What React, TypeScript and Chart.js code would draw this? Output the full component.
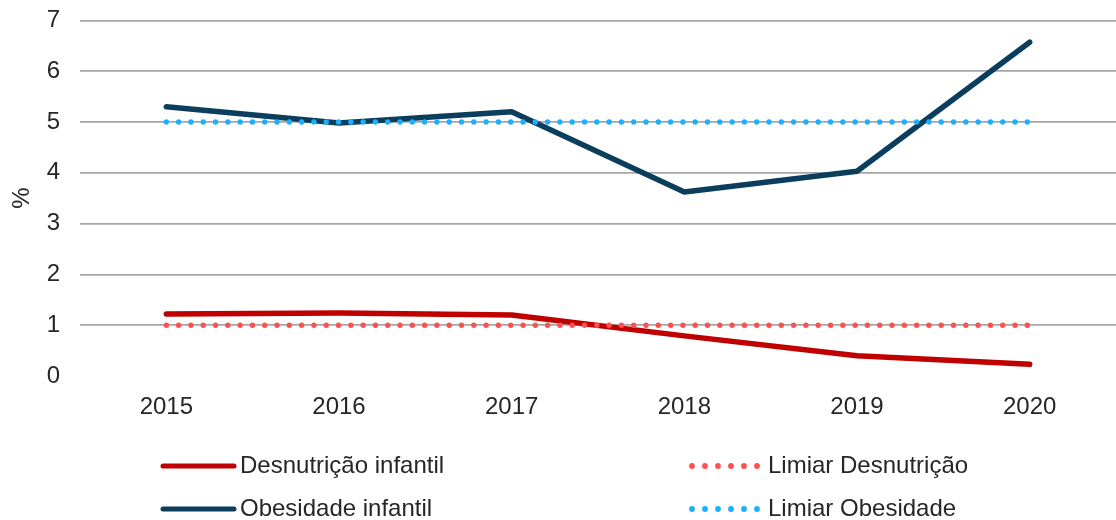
import React, { useEffect, useRef } from "react";
import { Chart, registerables } from "chart.js";

Chart.register(...registerables);

const categories = ["2015", "2016", "2017", "2018", "2019", "2020"];
const desnutricao = [1.22, 1.24, 1.2, 0.79, 0.4, 0.23];
const obesidade = [5.3, 4.98, 5.2, 3.62, 4.03, 6.57];
const limiarDesnutricao = [1, 1, 1, 1, 1, 1];
const limiarObesidade = [5, 5, 5, 5, 5, 5];
const yTicks = [0, 1, 2, 3, 4, 5, 6, 7];

const FONT = "'Liberation Sans', Arial, sans-serif";
const TEXT = "#262626";
const FS = 24;
const SHIFT = 14;

const legendItems = [
  { label: "Desnutrição infantil", color: "#C00000", dotted: false, x: 163, y: 466 },
  { label: "Limiar Desnutrição", color: "#FF5050", dotted: true, x: 692, y: 466 },
  { label: "Obesidade infantil", color: "#0B3D5C", dotted: false, x: 163, y: 509 },
  { label: "Limiar Obesidade", color: "#1AB0FF", dotted: true, x: 692, y: 509 },
];

const legendPlugin = {
  id: "customLegend",
  afterDraw(chart: any) {
    const ctx = chart.ctx;
    ctx.save();
    ctx.font = `${FS}px ${FONT}`;
    ctx.textBaseline = "middle";
    ctx.textAlign = "left";
    for (const it of legendItems) {
      const y = it.y + SHIFT;
      if (it.dotted) {
        ctx.fillStyle = it.color;
        for (let i = 0; i < 6; i++) {
          ctx.beginPath();
          ctx.arc(it.x + i * 13, y, 2.9, 0, Math.PI * 2);
          ctx.fill();
        }
        ctx.fillStyle = TEXT;
        ctx.fillText(it.label, it.x + 76, y);
      } else {
        ctx.strokeStyle = it.color;
        ctx.lineWidth = 5;
        ctx.lineCap = "round";
        ctx.beginPath();
        ctx.moveTo(it.x, y);
        ctx.lineTo(it.x + 71, y);
        ctx.stroke();
        ctx.fillStyle = TEXT;
        ctx.fillText(it.label, it.x + 77, y);
      }
    }
    ctx.restore();
  },
};

export default function App() {
  const ref = useRef<HTMLCanvasElement>(null);
  useEffect(() => {
    if (!ref.current) return;
    const chart = new Chart(ref.current, {
      type: "line",
      data: {
        labels: categories,
        datasets: [
          {
            label: "Limiar Desnutrição",
            data: limiarDesnutricao,
            borderColor: "#FF5050",
            borderWidth: 5.4,
            borderDash: [0, 12.3],
            borderCapStyle: "round",
            pointRadius: 0,
            order: 0,
          },
          {
            label: "Limiar Obesidade",
            data: limiarObesidade,
            borderColor: "#1AB0FF",
            borderWidth: 5.4,
            borderDash: [0, 12.3],
            borderCapStyle: "round",
            pointRadius: 0,
            order: 0,
          },
          {
            label: "Desnutrição infantil",
            data: desnutricao,
            borderColor: "#C00000",
            borderWidth: 5.5,
            borderCapStyle: "round",
            borderJoinStyle: "round",
            pointRadius: 0,
            tension: 0,
            order: 1,
          },
          {
            label: "Obesidade infantil",
            data: obesidade,
            borderColor: "#0B3D5C",
            borderWidth: 5.5,
            borderCapStyle: "round",
            borderJoinStyle: "round",
            pointRadius: 0,
            tension: 0,
            order: 1,
          },
        ],
      },
      options: {
        animation: false,
        responsive: false,
        maintainAspectRatio: false,
        layout: { padding: { top: 0, right: 0, left: 0, bottom: 0 } },
        plugins: {
          legend: { display: false },
          tooltip: { enabled: false },
        },
        scales: {
          x: {
            offset: true,
            grid: { display: false, drawTicks: false },
            border: { display: false },
            ticks: { font: { family: FONT, size: FS }, color: TEXT, padding: 17 },
            afterFit: (s: any) => {
              s.height = 144;
            },
          },
          y: {
            min: 0,
            max: 7,
            afterBuildTicks: (s: any) => {
              s.ticks = yTicks.map((v) => ({ value: v }));
            },
            grid: {
              color: (c: any) => (c.tick && c.tick.value === 0 ? "rgba(0,0,0,0)" : "#A6A6A6"),
              lineWidth: 1.7,
              drawTicks: false,
            },
            border: { display: false },
            ticks: { font: { family: FONT, size: FS }, color: TEXT, padding: 20 },
            title: {
              display: true,
              text: "%",
              font: { family: FONT, size: FS },
              color: TEXT,
              padding: { top: 8, bottom: 0 },
            },
            afterFit: (s: any) => {
              s.width = 80;
            },
          },
        },
      },
      plugins: [legendPlugin],
    });
    return () => chart.destroy();
  }, []);
  return (
    <div style={{ position: "fixed", left: 0, top: 0, width: 1116, height: 520, overflow: "hidden", background: "#fff" }}>
      <canvas
        ref={ref}
        width={1116}
        height={520 + SHIFT}
        style={{ position: "absolute", left: 0, top: -SHIFT, width: 1116, height: 520 + SHIFT }}
      />
    </div>
  );
}
